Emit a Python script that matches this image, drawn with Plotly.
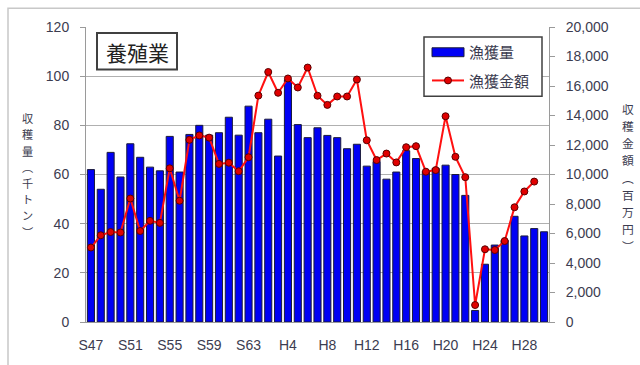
import plotly.graph_objects as go

# Fiscal years S47 (1972) .. S63 (1988), H1 (1989) .. H30 (2018)
years = [f"S{n}" for n in range(47, 64)] + [f"H{n}" for n in range(1, 31)]

# Aquaculture harvest volume (thousand tonnes)
volume = [62, 54, 69, 59, 72.5, 67, 63, 61.5, 75.5, 61,
          76.3, 80, 76, 77, 83.3, 76, 87.8, 77, 82.5, 67.5,
          98.5, 80.3, 75, 79, 75.9, 75, 70.5, 72.3, 63.4, 65.3,
          58.1, 61, 69.7, 66.5, 61.2, 62.5, 63.8, 60, 51.5, 4.7,
          23.5, 31.3, 33.2, 43, 35, 38, 36.7]

# Aquaculture harvest value (million yen); no value for the final year
value = [5050, 5880, 6100, 6070, 8370, 6170, 6860, 6720, 10420, 8220,
         12350, 12650, 12500, 10720, 10800, 10220, 11170, 15350, 16950, 15540,
         16510, 15900, 17250, 15340, 14720, 15290, 15290, 16440, 12320, 10980,
         11420, 10820, 11850, 11920, 10190, 10300, 13950, 11200, 9820, 1150,
         4930, 4880, 5490, 7780, 8850, 9520, None]

tick_labels = ["S47", "S51", "S55", "S59", "S63", "H4", "H8",
               "H12", "H16", "H20", "H24", "H28"]

left_title = "収穫量︵千トン︶"
right_title = "収穫金額︵百万円︶"

# plot-area geometry in pixels (640 x 365 canvas)
L, R, T, B = 86, 549, 27, 325
W, H = R - L, B - T


def px(x):
    return (x - L) / W


def py(y):
    return (B - y) / H


TXT = "#3c3c50"
FONT = "Liberation Sans"
CJK = "Noto Sans CJK JP"

fig = go.Figure()
fig.add_trace(go.Bar(
    x=years, y=volume, name="漁獲量",
    marker=dict(color="#0000F5", line=dict(color="#1a1a3a", width=1)),
    yaxis="y", showlegend=False,
))
fig.add_trace(go.Scatter(
    x=years, y=value, name="漁獲金額", mode="lines+markers",
    line=dict(color="#FF1010", width=2),
    marker=dict(symbol="circle", size=7, color="#E00000",
                line=dict(color="#5a0000", width=1)),
    yaxis="y2", showlegend=False,
))

shapes = []
annotations = []


def label(x, y, text, size, xanchor="center", color=TXT, family=CJK):
    annotations.append(dict(xref="paper", yref="paper", x=px(x), y=py(y),
                            xanchor=xanchor, yanchor="middle", text=text,
                            showarrow=False,
                            font=dict(family=family, size=size, color=color)))


# outer chart frame (only top/left edges fall inside the canvas)
shapes.append(dict(type="rect", xref="paper", yref="paper",
                   x0=px(8), x1=px(700), y0=py(420), y1=py(8),
                   line=dict(color="#c8c8c8", width=1.5), layer="below"))

# heading box
shapes.append(dict(type="rect", xref="paper", yref="paper",
                   x0=px(97), x1=px(177), y0=py(70), y1=py(33),
                   line=dict(color="#404040", width=2), fillcolor="white"))
label(137, 52, "養殖業", 21, color="#222")

# legend box
shapes.append(dict(type="rect", xref="paper", yref="paper",
                   x0=px(424), x1=px(542), y0=py(97), y1=py(37),
                   line=dict(color="#404040", width=1.5), fillcolor="white"))
shapes.append(dict(type="rect", xref="paper", yref="paper",
                   x0=px(432), x1=px(464), y0=py(57), y1=py(48),
                   line=dict(color="#1a1a3a", width=1), fillcolor="#0000F5"))
shapes.append(dict(type="line", xref="paper", yref="paper",
                   x0=px(432), x1=px(464), y0=py(81), y1=py(81),
                   line=dict(color="#FF1010", width=2)))
shapes.append(dict(type="circle", xref="paper", yref="paper",
                   x0=px(444.5), x1=px(451.5), y0=py(84.5), y1=py(77.5),
                   line=dict(color="#5a0000", width=1), fillcolor="#E00000"))
label(467, 52, "漁獲量", 15, xanchor="left")
label(467, 81, "漁獲金額", 15, xanchor="left")

# vertical axis titles, one upright character per row
for i, ch in enumerate(left_title):
    label(27, 119 + i * 16.4, ch, 11.2)
for i, ch in enumerate(right_title):
    label(628, 109 + i * 17.4, ch, 11.8)

fig.update_layout(
    width=640, height=365,
    margin=dict(l=L, r=640 - R, t=T, b=365 - B),
    paper_bgcolor="white", plot_bgcolor="white",
    bargap=0.28,
    font=dict(family=FONT, size=14, color=TXT),
    xaxis=dict(
        type="category", range=[-0.5, len(years) - 0.5],
        tickmode="array", tickvals=tick_labels, ticktext=tick_labels,
        showgrid=False, showline=True, linecolor="#9a9a9a",
        ticks="", tickfont=dict(size=14, color=TXT), ticklabelstandoff=10,
    ),
    yaxis=dict(
        range=[0, 120], dtick=20, showgrid=True, gridcolor="#b0b0b0",
        gridwidth=1, showline=True, linecolor="#9a9a9a",
        ticks="outside", ticklen=5, tickcolor="#9a9a9a",
        tickfont=dict(size=14, color=TXT), ticklabelstandoff=8, zeroline=False,
    ),
    yaxis2=dict(
        range=[0, 20000], dtick=2000, overlaying="y", side="right",
        showgrid=False, showline=True, linecolor="#9a9a9a",
        ticks="outside", ticklen=5, tickcolor="#9a9a9a",
        tickformat=",d", tickfont=dict(size=14, color=TXT),
        ticklabelstandoff=8, zeroline=False,
    ),
    shapes=shapes, annotations=annotations,
)

fig.write_html("out.html")
